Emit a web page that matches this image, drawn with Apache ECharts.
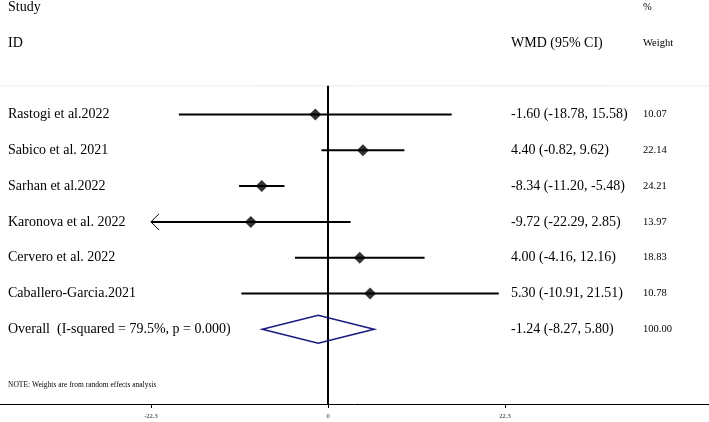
<!DOCTYPE html>
<html>
<head>
<meta charset="utf-8">
<script src="https://cdn.jsdelivr.net/npm/echarts@6/dist/echarts.min.js"></script>
<style>html,body{margin:0;padding:0;background:#fff;}#c{width:709px;height:422px;}</style>
</head>
<body>
<div id="c"></div>
<script>
// ---- data ----
const studies = ["Rastogi et al.2022","Sabico et al. 2021","Sarhan et al.2022","Karonova et al. 2022","Cervero et al. 2022","Caballero-Garcia.2021"];
const effect = [-1.60, 4.40, -8.34, -9.72, 4.00, 5.30];
const ciLow = [-18.78, -0.82, -11.20, -22.29, -4.16, -10.91];
const ciHigh = [15.58, 9.62, -5.48, 2.85, 12.16, 21.51];
const weights = [10.07, 22.14, 24.21, 13.97, 18.83, 10.78];
const overallLabel = "Overall  (I-squared = 79.5%, p = 0.000)";
const overallEffect = [-1.24];
const overallLow = [-8.27];
const overallHigh = [5.80];
const overallWeight = [100.00];
const xTicks = [-22.3, 0, 22.3];
const noteText = "NOTE: Weights are from random effects analysis";

// ---- layout ----
const FONT = '"Liberation Serif","Times New Roman",serif';
const X0 = 328, PX = 7.94;          // pixel of 0, px per unit
const W = 709;
const ROW0 = 114.5, ROWH = 35.8, AXIS_Y = 404;
const xMin = -X0 / PX, xMax = (W - X0) / PX;
const yMin = -ROW0 / ROWH, yMax = (AXIS_Y - ROW0) / ROWH;
const COL_STUDY = 8, COL_CI = 511, COL_W = 643;

const f2 = v => v.toFixed(2);
const ciText = (e, l, h) => f2(e) + " (" + f2(l) + ", " + f2(h) + ")";

const texts = [];
texts.push({r: -3, t: "Study", x: COL_STUDY, fs: 14});
texts.push({r: -2, t: "ID", x: COL_STUDY, fs: 14});
texts.push({r: -3, t: "%", x: COL_W, fs: 10.5});
texts.push({r: -2, t: "WMD (95% CI)", x: COL_CI, fs: 14});
texts.push({r: -2, t: "Weight", x: COL_W, fs: 10.5});
studies.forEach((s, i) => {
  texts.push({r: i, t: s, x: COL_STUDY, fs: 14});
  texts.push({r: i, t: ciText(effect[i], ciLow[i], ciHigh[i]), x: COL_CI, fs: 14});
  texts.push({r: i, t: f2(weights[i]), x: COL_W, fs: 10.5});
});
const oRow = studies.length;
texts.push({r: oRow, t: overallLabel, x: COL_STUDY, fs: 14});
texts.push({r: oRow, t: ciText(overallEffect[0], overallLow[0], overallHigh[0]), x: COL_CI, fs: 14});
texts.push({r: oRow, t: f2(overallWeight[0]), x: COL_W, fs: 10.5});
texts.push({r: oRow + 1.56, t: noteText, x: COL_STUDY, fs: 7.5});

const chart = echarts.init(document.getElementById('c'), null, {renderer: 'canvas'});
chart.setOption({
  animation: false,
  backgroundColor: '#fff',
  grid: {left: 0, right: 0, top: 0, height: AXIS_Y, containLabel: false},
  xAxis: {
    type: 'value', min: xMin, max: xMax, position: 'bottom',
    axisLine: {show: true, onZero: false, lineStyle: {color: '#000', width: 1}},
    axisTick: {show: true, customValues: xTicks, length: 4, lineStyle: {color: '#000', width: 1}},
    axisLabel: {show: true, customValues: xTicks, fontSize: 6.5, fontFamily: FONT, color: '#222', margin: 9,
      formatter: v => String(v)},
    splitLine: {show: false}
  },
  yAxis: {type: 'value', min: yMin, max: yMax, inverse: true, show: false},
  series: [
    { // faint top rule + zero line
      type: 'custom', silent: true, data: [[0]],
      renderItem: (p, api) => {
        const top = api.coord([0, -0.8]);
        const bot = api.coord([0, yMax]);
        const l = api.coord([xMin, -0.8]);
        const r = api.coord([xMax, -0.8]);
        return {type: 'group', children: [
          {type: 'line', shape: {x1: l[0], y1: l[1], x2: r[0], y2: r[1]}, style: {stroke: '#ececec', lineWidth: 1}},
          {type: 'line', shape: {x1: top[0], y1: top[1], x2: bot[0], y2: bot[1]}, style: {stroke: '#000', lineWidth: 2}}
        ]};
      }
    },
    { // confidence intervals
      type: 'custom', silent: true,
      data: studies.map((s, i) => [i, ciLow[i], ciHigh[i]]),
      renderItem: (p, api) => {
        const r = api.value(0), lo = api.value(1), hi = api.value(2);
        const clipped = lo <= xTicks[0] + 0.05;
        const a = api.coord([clipped ? xTicks[0] : lo, r]);
        const b = api.coord([hi, r]);
        const ch = [{type: 'line', shape: {x1: a[0], y1: a[1], x2: b[0], y2: b[1]}, style: {stroke: '#000', lineWidth: 2}}];
        if (clipped) {
          ch.push({type: 'polyline', shape: {points: [[a[0] + 8, a[1] - 8], [a[0], a[1]], [a[0] + 8, a[1] + 8]]},
            style: {stroke: '#000', lineWidth: 1, fill: null}});
        }
        return {type: 'group', children: ch};
      }
    },
    { // point estimates
      type: 'scatter', silent: true, symbol: 'diamond', symbolSize: [12, 12],
      itemStyle: {color: '#000'},
      data: effect.map((e, i) => [e, i])
    },
    { // overall diamond
      type: 'custom', silent: true,
      data: [[oRow, overallEffect[0], overallLow[0], overallHigh[0]]],
      renderItem: (p, api) => {
        const r = api.value(0), e = api.value(1), lo = api.value(2), hi = api.value(3);
        const pts = [api.coord([lo, r]), api.coord([e, r - 0.39]), api.coord([hi, r]), api.coord([e, r + 0.39])];
        return {type: 'polygon', shape: {points: pts}, style: {stroke: '#1a1a7e', lineWidth: 1.6, fill: null}};
      }
    },
    { // text columns
      type: 'custom', silent: true,
      data: texts.map(t => [t.r]),
      renderItem: (p, api) => {
        const t = texts[p.dataIndex];
        const y = api.coord([0, api.value(0)])[1];
        return {type: 'text', style: {text: t.t, x: t.x, y: y, fontSize: t.fs, fontFamily: FONT,
          fill: '#000', textAlign: 'left', textVerticalAlign: 'middle', verticalAlign: 'middle'}};
      }
    }
  ]
});
</script>
</body>
</html>
